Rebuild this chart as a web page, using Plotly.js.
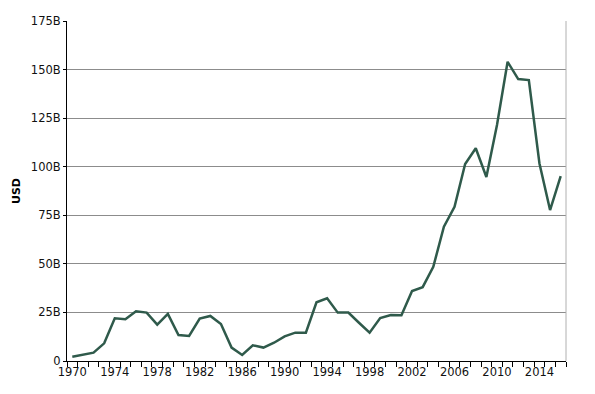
<!DOCTYPE html>
<html>
<head>
<meta charset="utf-8">
<script src="https://cdn.plot.ly/plotly-3.0.1.min.js"></script>
<style>html,body{margin:0;padding:0;background:#fff;}#chart{width:595px;height:394px;}</style>
</head>
<body>
<div id="chart"></div>
<script>
const years = [1970,1971,1972,1973,1974,1975,1976,1977,1978,1979,
               1980,1981,1982,1983,1984,1985,1986,1987,1988,1989,
               1990,1991,1992,1993,1994,1995,1996,1997,1998,1999,
               2000,2001,2002,2003,2004,2005,2006,2007,2008,2009,
               2010,2011,2012,2013,2014,2015,2016];
const valuesB = [2.2,3.4,4.3,9.1,22.0,21.5,25.6,24.9,18.7,24.2,
                 13.4,12.9,21.8,23.2,19.0,6.9,3.1,8.1,6.9,9.4,
                 12.7,14.6,14.6,30.2,32.3,24.9,24.9,19.7,14.6,22.1,
                 23.7,23.5,36.0,38.0,48.5,69.1,79.4,101.4,109.5,94.7,
                 121.5,154.0,145.1,144.6,101.7,77.7,95.2];
const xTickVals = [1970,1974,1978,1982,1986,1990,1994,1998,2002,2006,2010,2014];
const xTickText = ["1970","1974","1978","1982","1986","1990","1994","1998","2002","2006","2010","2014"];
const yTickVals = [0,25,50,75,100,125,150,175];
const yTickText = ["0","25B","50B","75B","100B","125B","150B","175B"];

const trace = {
  x: years,
  y: valuesB,
  type: 'scatter',
  mode: 'lines',
  line: {color: '#2f5a4b', width: 2.5},
  hoverinfo: 'skip'
};

const layout = {
  width: 595, height: 394,
  margin: {l: 67, r: 29, t: 21, b: 33},
  paper_bgcolor: '#fff', plot_bgcolor: '#fff',
  showlegend: false,
  font: {family: 'DejaVu Sans, sans-serif', size: 11, color: '#111'},
  xaxis: {
    range: [1969.5, 2016.5],
    tickvals: xTickVals, ticktext: xTickText,
    ticks: 'outside', ticklen: 0, tickcolor: 'rgba(0,0,0,0)',
    showgrid: false, zeroline: false,
    showline: true, linecolor: '#000', linewidth: 1,
    tickfont: {size: 11.5, color: '#111'},
    minor: {dtick: 1, tick0: 1969.5, ticks: 'outside', ticklen: 5, tickcolor: '#000', showgrid: false}
  },
  yaxis: {
    range: [0, 175],
    tickvals: yTickVals, ticktext: yTickText,
    ticks: 'outside', ticklen: 3, tickcolor: '#000',
    showgrid: true, gridcolor: '#8c8c8c', gridwidth: 1,
    zeroline: false,
    showline: true, linecolor: '#000', linewidth: 1,
    tickfont: {size: 11.5, color: '#111'},
    title: {text: 'USD', font: {size: 11, color: '#000', weight: 'bold'}, standoff: 8}
  },
  shapes: [{type: 'line', xref: 'paper', yref: 'paper', x0: 1, x1: 1, y0: 0, y1: 1,
            line: {color: '#b0b0b0', width: 1}}]
};

Plotly.newPlot('chart', [trace], layout, {staticPlot: true, displayModeBar: false});
</script>
</body>
</html>
